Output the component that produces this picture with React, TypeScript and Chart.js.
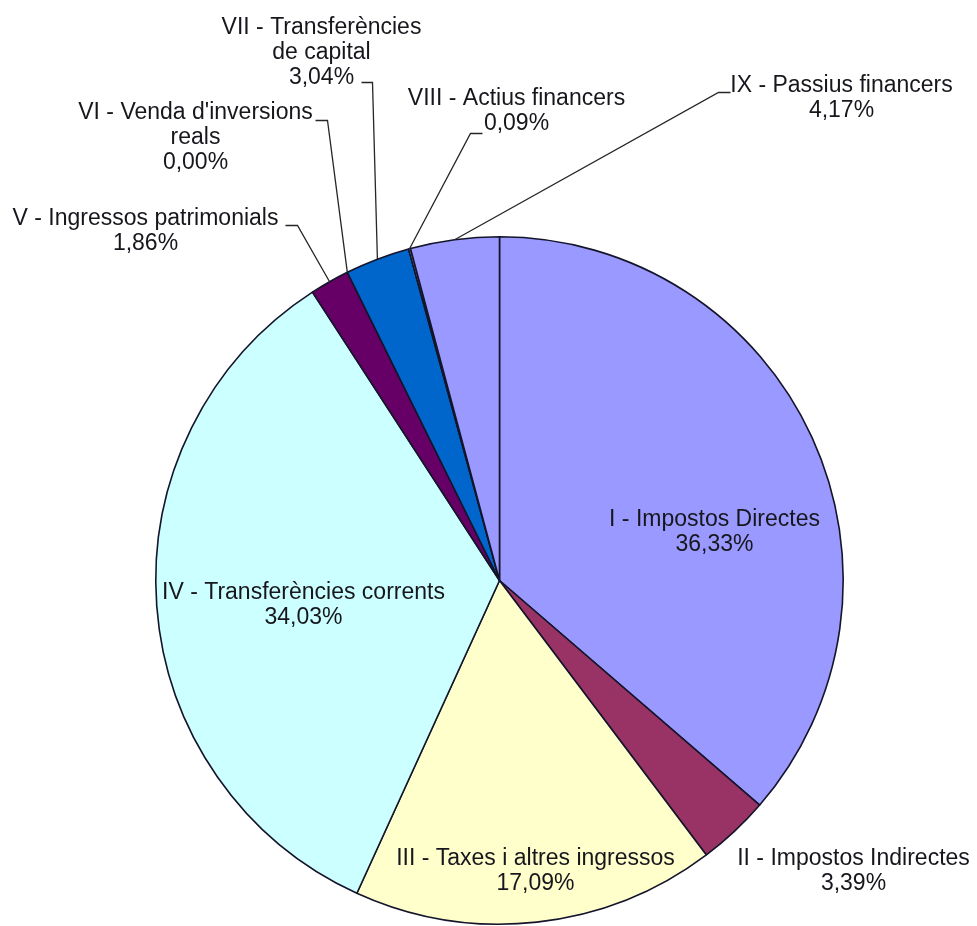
import React, { useEffect, useRef } from "react";
import { Chart, registerables } from "chart.js";

Chart.register(...registerables);

// ---- data ----
const categoryLines: string[][] = [
  ["I - Impostos Directes"],
  ["II - Impostos Indirectes"],
  ["III - Taxes i altres ingressos"],
  ["IV - Transferències corrents"],
  ["V - Ingressos patrimonials"],
  ["VI - Venda d'inversions", "reals"],
  ["VII - Transferències", "de capital"],
  ["VIII - Actius financers"],
  ["IX - Passius financers"],
];
const categories: string[] = categoryLines.map((l) => l.join(" "));
const percentages: number[] = [36.33, 3.39, 17.09, 34.03, 1.86, 0.0, 3.04, 0.09, 4.17];
const sliceColors: string[] = [
  "#9999FF",
  "#993366",
  "#FFFFCC",
  "#CCFFFF",
  "#660066",
  "#FF8080",
  "#0066CC",
  "#CCCCFF",
  "#9999FF",
];

// ---- label layout (offsets from pie centre, px) ----
type Leader = { tx: number; ex: number; y: number } | null;
const labelLayout: { dx: number; dy: number; leader: Leader }[] = [
  { dx: 215, dy: -61, leader: null },
  { dx: 354, dy: 278, leader: null },
  { dx: 36, dy: 278, leader: null },
  { dx: -196, dy: 12, leader: null },
  { dx: -354, dy: -362, leader: { tx: -214, ex: -202, y: -355 } },
  { dx: -304, dy: -468, leader: { tx: -184, ex: -172, y: -460 } },
  { dx: -178, dy: -553, leader: { tx: -138, ex: -127, y: -498 } },
  { dx: 17, dy: -482, leader: { tx: -17, ex: -29, y: -447 } },
  { dx: 342, dy: -495, leader: { tx: 231, ex: 219, y: -488 } },
];

const FONT = '23px "Liberation Sans", Arial, sans-serif';
const LINE_H = 25;

const labelPlugin = {
  id: "pieLabels",
  afterDatasetsDraw(chart: any) {
    const ctx = chart.ctx;
    const meta = chart.getDatasetMeta(0);
    const values = chart.data.datasets[0].data as number[];
    ctx.save();
    meta.data.forEach((arc: any, i: number) => {
      const cx = arc.x;
      const cy = arc.y;
      const lay = labelLayout[i];
      const lines = [...categoryLines[i], values[i].toFixed(2).replace(".", ",") + "%"];
      if (lay.leader) {
        const mid = (arc.startAngle + arc.endAngle) / 2;
        const px = cx + Math.cos(mid) * arc.outerRadius;
        const py = cy + Math.sin(mid) * arc.outerRadius;
        ctx.beginPath();
        ctx.strokeStyle = "#262626";
        ctx.lineWidth = 1.3;
        ctx.moveTo(cx + lay.leader.tx, cy + lay.leader.y);
        ctx.lineTo(cx + lay.leader.ex, cy + lay.leader.y);
        ctx.lineTo(px, py);
        ctx.stroke();
      }
      ctx.font = FONT;
      ctx.fillStyle = "#16161c";
      ctx.textAlign = "center";
      ctx.textBaseline = "middle";
      lines.forEach((t, k) => {
        ctx.fillText(t, cx + lay.dx, cy + lay.dy + k * LINE_H);
      });
    });
    ctx.restore();
  },
};

export default function App() {
  const ref = useRef<HTMLCanvasElement | null>(null);
  useEffect(() => {
    if (!ref.current) return;
    const chart = new Chart(ref.current, {
      type: "pie",
      data: {
        labels: categories,
        datasets: [
          {
            data: percentages,
            backgroundColor: sliceColors,
            borderColor: "#14142a",
            borderWidth: 1.6,
          },
        ],
      },
      options: {
        responsive: false,
        animation: false,
        devicePixelRatio: 1,
        layout: { padding: { left: 155, right: 133, top: 236, bottom: 1 } },
        plugins: {
          legend: { display: false },
          tooltip: { enabled: false },
        },
      },
      plugins: [labelPlugin],
    });
    return () => chart.destroy();
  }, []);
  return (
    <div style={{ position: "absolute", left: 0, top: 0, width: 977, height: 926, background: "#fff" }}>
      <canvas ref={ref} width={977} height={926} />
    </div>
  );
}
